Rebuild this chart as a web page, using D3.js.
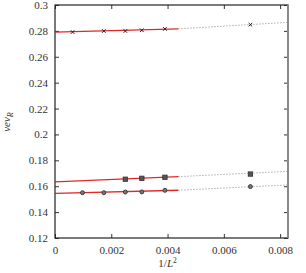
<!DOCTYPE html>
<html><head><meta charset="utf-8">
<script src="https://cdn.jsdelivr.net/npm/d3@7"></script>
<style>body{margin:0;background:#fff}</style>
</head><body><svg id="c" width="306" height="273"></svg>
<script>
// data
const xTicks = [0, 0.002, 0.004, 0.006, 0.008];
const yTicks = [0.12, 0.14, 0.16, 0.18, 0.2, 0.22, 0.24, 0.26, 0.28, 0.3];
const crossX = [0.000625, 0.001736, 0.0025, 0.003086, 0.003906, 0.006944];
const crossY = [0.2791, 0.2799, 0.2799, 0.2805, 0.2815, 0.2848];
const squareX = [0.0025, 0.003086, 0.003906, 0.006944];
const squareY = [0.1654, 0.1661, 0.1669, 0.1694];
const circleX = [0.000977, 0.001736, 0.0025, 0.003086, 0.003906, 0.006944];
const circleY = [0.1550, 0.1550, 0.1555, 0.1556, 0.1568, 0.1597];
// fits: [x0, y0, x1, y1]
const redFits = [[0, 0.2791, 0.00438, 0.2816], [0, 0.1633, 0.00438, 0.1674], [0, 0.1545, 0.00438, 0.1569]];
const dotFits = [[0.00438, 0.2816, 0.00828, 0.2866], [0.00438, 0.1674, 0.00828, 0.1715], [0.00438, 0.1569, 0.00828, 0.1610]];

const FONT = "'Liberation Serif', 'DejaVu Serif', serif";
const L = 55, T = 5, W = 233, H = 233;
const svg = d3.select("#c");
const x = d3.scaleLinear().domain([0, 0.00828]).range([L, L + W]);
const y = d3.scaleLinear().domain([0.12, 0.3]).range([T + H, T]);
const fmt = d => d === 0 ? "0" : String(+d.toFixed(3));

// ticks
const g = svg.append("g");
g.append("g").attr("transform", `translate(0,${T + H})`)
  .call(d3.axisBottom(x).tickValues(xTicks).tickSize(-4).tickPadding(8).tickFormat(fmt));
g.append("g").attr("transform", `translate(0,${T})`)
  .call(d3.axisTop(x).tickValues(xTicks).tickSize(-4).tickFormat(""));
g.append("g").attr("transform", `translate(${L},0)`)
  .call(d3.axisLeft(y).tickValues(yTicks).tickSize(-4).tickPadding(7).tickFormat(fmt));
g.append("g").attr("transform", `translate(${L + W},0)`)
  .call(d3.axisRight(y).tickValues(yTicks).tickSize(-4).tickFormat(""));
g.selectAll(".domain").remove();
g.selectAll("g").attr("font-family", FONT);
g.selectAll(".tick line").attr("stroke", "#333");
g.selectAll(".tick text").attr("font-size", 11).attr("fill", "#333").attr("font-family", FONT);

// frame
svg.append("rect").attr("x", L).attr("y", T).attr("width", W).attr("height", H)
  .attr("fill", "none").attr("stroke", "#222").attr("stroke-width", 1.2);
svg.append("line").attr("x1", L + W).attr("x2", L + W).attr("y1", T).attr("y2", T + H)
  .attr("stroke", "#888").attr("stroke-width", 2);

// fit lines
svg.selectAll(".dot").data(dotFits).join("line")
  .attr("x1", d => x(d[0])).attr("y1", d => y(d[1])).attr("x2", d => x(d[2])).attr("y2", d => y(d[3]))
  .attr("stroke", "#999").attr("stroke-width", 0.8).attr("stroke-dasharray", "1.5,1.5");
svg.selectAll(".red").data(redFits).join("line")
  .attr("x1", d => x(d[0])).attr("y1", d => y(d[1])).attr("x2", d => x(d[2])).attr("y2", d => y(d[3]))
  .attr("stroke", "#e01010").attr("stroke-width", 1.3).attr("stroke-opacity", 0.9);

// markers
svg.selectAll(".cx").data(crossX.map((v, i) => [v, crossY[i]])).join("path")
  .attr("transform", d => `translate(${x(d[0])},${y(d[1])})`)
  .attr("d", "M-1.8,-1.8L1.8,1.8M-1.8,1.8L1.8,-1.8")
  .attr("stroke", "#222").attr("stroke-width", 1);
svg.selectAll(".sq").data(squareX.map((v, i) => [v, squareY[i]])).join("rect")
  .attr("x", d => x(d[0]) - 2.2).attr("y", d => y(d[1]) - 2.2).attr("width", 4.4).attr("height", 4.4)
  .attr("fill", "#555").attr("stroke", "#333").attr("stroke-width", 0.8);
svg.selectAll(".ci").data(circleX.map((v, i) => [v, circleY[i]])).join("circle")
  .attr("cx", d => x(d[0])).attr("cy", d => y(d[1])).attr("r", 2)
  .attr("fill", "#777").attr("stroke", "#333").attr("stroke-width", 0.9);

// axis titles
const xt = svg.append("text").attr("x", x(0.004)).attr("y", 267).attr("text-anchor", "middle")
  .attr("font-size", 11).attr("font-family", FONT).attr("fill", "#333");
xt.append("tspan").text("1/");
xt.append("tspan").attr("font-style", "italic").text("L");
xt.append("tspan").attr("font-size", 7.5).attr("dy", -4).text("2");

const yt = svg.append("text").attr("transform", "translate(10,122) rotate(-90)").attr("text-anchor", "middle")
  .attr("font-size", 11).attr("font-style", "italic").attr("font-family", FONT).attr("fill", "#333");
yt.append("tspan").text("vev");
yt.append("tspan").attr("font-size", 8).attr("dy", 2.5).text("R");
</script></body></html>
